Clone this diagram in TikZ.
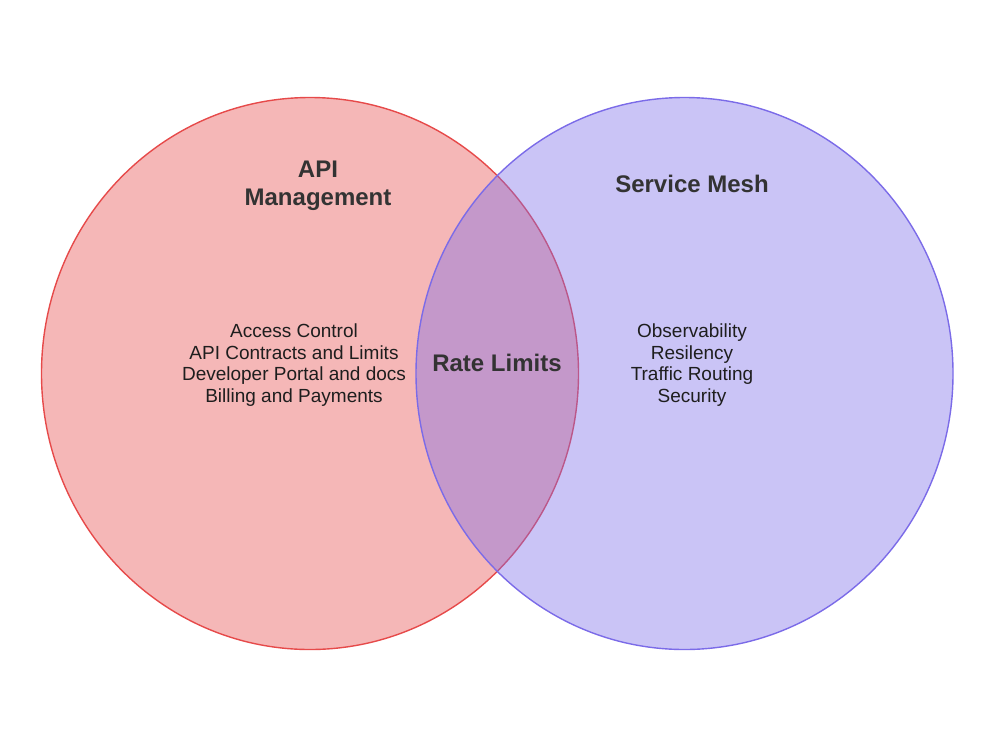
\documentclass[tikz,border=0pt]{standalone}
\usepackage{fontspec}
\setmainfont{Liberation Sans}
\usetikzlibrary{shapes.geometric}
\definecolor{apired}{HTML}{E64A4A}
\definecolor{meshblue}{HTML}{7B6BE8}
\definecolor{titlegray}{HTML}{333333}
\definecolor{textgray}{HTML}{1E1E1E}

\begin{document}
\begin{tikzpicture}[x=1pt,y=-1pt,
    setcircle/.style={ellipse,draw,line width=1.4pt,fill opacity=0.4,minimum width=537pt,minimum height=552pt,inner sep=0pt},
    settitle/.style={align=center,text=titlegray,font=\fontsize{24}{28}\selectfont\bfseries},
    setitems/.style={align=center,text=textgray,font=\fontsize{19}{21.5}\selectfont}]
  \useasboundingbox (0,0) rectangle (1000,750);
  \node[setcircle,draw=apired,fill=apired] (mgmt) at (310,373.5) {};
  \node[setcircle,draw=meshblue,fill=meshblue] (mesh) at (684.5,373.5) {};
  \node[settitle] (mgmttitle) at (318,186) {API\\Management};
  \node[settitle] (meshtitle) at (692,184) {Service Mesh};
  \node[settitle] (overlap) at (497,363) {Rate Limits};
  \node[setitems] (mgmtitems) at (294,365) {Access Control\\API Contracts and Limits\\Developer Portal and docs\\Billing and Payments};
  \node[setitems] (meshitems) at (692,365) {Observability\\Resilency\\Traffic Routing\\Security};
\end{tikzpicture}
\end{document}
